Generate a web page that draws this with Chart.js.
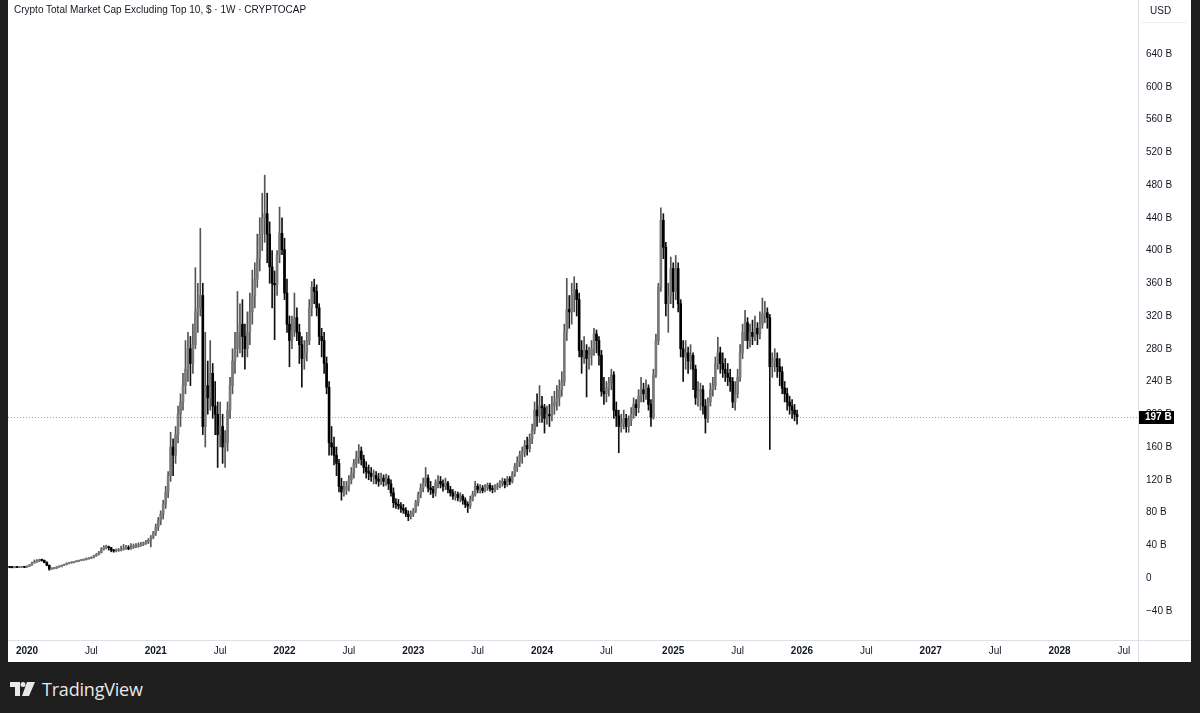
<!DOCTYPE html>
<html><head><meta charset="utf-8">
<script src="https://cdn.jsdelivr.net/npm/chart.js@4.4.0/dist/chart.umd.min.js"></script>
<style>
html,body{margin:0;padding:0;background:#1e1e1e;width:1200px;height:713px;overflow:hidden;}
#panel{position:absolute;left:8px;top:0;width:1183px;height:662px;background:#fff;}
#c{position:absolute;left:0;top:0;}
#title{position:absolute;left:6px;top:4px;font:10px 'Liberation Sans',Arial,sans-serif;color:#131722;white-space:nowrap;}
#logo{position:absolute;left:10px;top:679px;height:20px;display:flex;align-items:center;}
#logo span{font:500 18px 'Open Sans',sans-serif;color:#e8e8e8;margin-left:7px;letter-spacing:-0.2px;}
</style></head>
<body>
<div id="panel">
  <canvas id="c" width="1183" height="662"></canvas>
  <div id="title">Crypto Total Market Cap Excluding Top 10, $ · 1W · CRYPTOCAP</div>
</div>
<div id="logo">
  <svg width="25" height="14" viewBox="0 0 25 14"><path d="M0 0H10V14H5V5H0Z" fill="#e8e8e8"/><circle cx="13" cy="2.5" r="2.5" fill="#e8e8e8"/><path d="M17 0H25L19 14H12Z" fill="#e8e8e8"/></svg>
  <span>TradingView</span>
</div>
<script>
// Weekly candles (billions USD), first candle = week of 2019-11-11
const open = [
13.0,13.2,13.0,12.8,13.1,12.9,13.0,13.2,13.1,14.5, 16.0,18.5,19.5,21.0,22.0,21.5,19.0,15.5,11.0,11.5,
12.0,13.5,14.0,15.5,16.5,18.0,18.5,19.0,20.0,20.5, 21.5,22.0,22.5,23.5,24.0,25.0,27.0,28.5,31.0,35.0,
37.5,38.0,37.0,34.0,33.0,33.5,34.0,35.0,36.5,37.0, 36.0,37.5,38.5,39.0,40.0,41.0,42.5,44.0,46.0,50.0,
55,62,70,78,90,105,125,160,150,175, 200,215,235,255,280,262,285,325,330,345,
185,235,220,250,210,200,175,185,160,165, 205,235,265,280,300,310,295,280,300,325,
345,365,390,420,440,445,420,380,360,358, 395,421,
401,348,310,290,302,318,300,285,268,275, 290,330,355,350,330,295,290,262,233,165,
160,150,140,112,105,108,112,120,128,140, 148,155,145,135,130,128,124,125,121,118,
122,118,121,115,104,92,90,88,85,83, 78,75,
78,82,92,102,110,116,122,110,108,104, 116,118,115,112,116,108,104,100,102,98,
100,95,90,88,96,102,112,108,110,107, 111,113,109,108,111,113,116,118,114,121,
118,127,136,142,150,154,162,158,170,180, 205,198,
210,208,195,200,198,210,215,220,230,240, 300,328,325,345,352,340,278,270,278,268,
272,280,298,290,272,228,225,232,238,248, 205,198,185,188,195,185,192,200,212,208,
222,230,225,232,212,196,248,290,355,437, 404,335,
345,378,350,378,335,280,270,275,265,272, 255,220,228,230,210,195,215,230,235,262,
275,262,255,250,245,240,215,225,245,275, 300,312,290,300,295,305,298,310,322,324,
318,258,265,268,258,252,232,225,215,210, 205,200
];
const high = [
13.8,13.9,13.5,13.6,13.5,13.6,13.7,13.6,15.0,16.5, 19.5,22.0,22.5,23.0,23.0,22.0,19.8,16.0,12.5,13.0,
14.0,14.8,16.0,17.0,18.5,19.2,19.8,20.5,21.2,22.0, 22.8,23.2,24.5,25.0,26.0,28.0,30.0,32.5,37.0,39.5,
40.0,39.0,37.5,35.0,35.5,36.0,39.0,41.0,40.0,39.5, 42.0,41.5,42.0,43.0,43.5,44.0,46.0,48.0,52.0,57.0,
66,74,82,95,112,130,178,170,185,210, 225,250,290,300,295,310,379,360,427,360,
300,265,290,262,240,215,215,200,180,215, 245,280,300,350,335,340,310,325,348,376,
385,420,440,470,492,470,435,400,375,400, 453,440,
415,365,320,320,348,330,310,295,290,300, 340,362,365,358,335,305,300,270,240,185,
172,160,145,122,118,118,125,135,145,155, 163,160,150,142,138,135,132,130,128,128,
126,127,125,120,110,97,96,92,90,86, 82,82,
85,95,105,115,122,135,126,118,112,120, 125,124,120,122,118,112,108,106,105,104,
102,98,93,100,106,118,115,114,113,114, 116,116,113,114,116,119,122,121,124,124,
130,140,148,155,160,168,172,176,188,215, 225,235,
222,212,210,212,222,228,235,242,252,310, 366,345,360,368,360,348,290,295,285,282,
290,305,303,295,278,245,240,245,255,252, 215,205,200,205,200,198,208,220,218,230,
245,238,242,236,218,255,298,360,452,445, 410,360,
392,385,394,385,340,290,290,282,285,275, 260,240,238,235,218,220,238,245,270,294,
282,275,268,262,255,245,240,255,285,310, 327,318,310,315,320,312,325,342,338,330,
322,275,280,275,268,258,240,232,222,218, 212,205
];
const low = [
12.6,12.5,12.3,12.4,12.5,12.6,12.7,12.6,12.9,14.0, 15.5,18.0,19.0,20.0,20.5,18.5,15.0,9.5,10.5,11.0,
11.5,13.0,13.5,15.0,16.0,17.3,18.0,18.5,19.5,20.0, 21.0,21.5,22.0,23.0,23.5,24.5,26.5,28.0,30.5,34.0,
35.5,34.0,32.0,31.5,32.0,32.5,33.0,34.0,35.0,34.5, 35.0,36.0,37.0,37.5,38.5,39.5,41.0,42.0,38.0,48.0,
52,58,65,72,85,98,118,125,140,165, 185,205,225,240,235,250,280,300,320,175,
160,200,205,195,175,135,160,140,135,155, 195,225,250,270,275,270,255,270,285,310,
330,355,375,400,410,385,360,330,291,345, 385,395,
340,300,258,280,295,290,262,233,255,265, 285,320,335,320,285,270,250,225,150,150,
138,125,105,95,100,102,106,115,122,135, 140,138,128,122,120,118,115,115,112,114,
112,113,108,100,86,85,84,80,79,75, 70,72,
75,80,88,98,105,112,105,102,98,100, 110,110,106,108,104,100,96,95,94,93,
90,86,80,85,94,100,104,104,104,105, 107,106,104,105,108,110,112,110,112,114,
116,124,130,136,140,148,150,154,164,176, 185,190,
190,177,188,185,192,200,205,210,222,235, 290,305,310,325,320,270,250,262,221,255,
260,272,275,260,222,212,215,222,230,195, 185,153,178,182,178,178,186,195,198,202,
215,215,218,205,185,194,245,285,350,390, 320,300,
335,330,340,325,270,240,255,250,255,230, 212,210,205,200,177,190,210,222,230,255,
250,245,240,235,228,208,205,220,240,268, 290,280,282,285,290,285,292,305,312,305,
157,245,252,245,235,225,215,205,200,195, 192,188
];
const close = [
13.2,13.0,12.8,13.1,12.9,13.0,13.2,13.1,14.5,16.0, 18.5,19.5,21.0,22.0,21.5,19.0,15.5,11.0,11.5,12.0,
13.5,14.0,15.5,16.5,18.0,18.5,19.0,20.0,20.5,21.5, 22.0,22.5,23.5,24.0,25.0,27.0,28.5,31.0,35.0,37.5,
38.0,37.0,34.0,33.0,33.5,34.0,35.0,36.5,37.0,36.0, 37.5,38.5,39.0,40.0,41.0,42.5,44.0,46.0,50.0,55.0,
62,70,78,90,105,125,160,150,175,200, 215,235,255,280,262,285,325,330,345,185,
235,220,250,210,200,175,185,160,165,205, 235,265,280,300,310,295,280,300,325,345,
365,390,420,440,445,420,380,360,358,395, 421,401,
348,310,290,302,318,300,285,268,275,290, 330,355,350,330,295,290,262,233,165,160,
150,140,112,105,108,112,120,128,140,148, 155,145,135,130,128,124,125,121,118,122,
118,121,115,104,92,90,88,85,83,78, 75,78,
82,92,102,110,116,122,110,108,104,116, 118,115,112,116,108,104,100,102,98,100,
95,90,88,96,102,112,108,110,107,111, 113,109,108,111,113,116,118,114,121,118,
127,136,142,150,154,162,158,170,180,205, 198,210,
208,195,200,198,210,215,220,230,240,300, 328,325,345,352,340,278,270,278,268,272,
280,298,290,272,228,225,232,238,248,205, 198,185,188,195,185,192,200,212,208,222,
230,225,232,212,196,248,290,355,437,404, 335,345,
378,350,378,335,280,270,275,265,272,255, 220,228,230,210,195,215,230,235,262,275,
262,255,250,245,240,215,225,245,275,300, 312,290,300,295,305,298,310,322,324,318,
258,265,268,258,252,232,225,215,210,205, 200,197
];
// time axis ticks: week index of first bar of each period
const tickIdx  = [8, 34, 60, 86, 112, 138, 164, 190, 216, 242, 269, 295, 321, 347, 373, 399, 425, 451];
const tickText = ['2020','Jul','2021','Jul','2022','Jul','2023','Jul','2024','Jul','2025','Jul','2026','Jul','2027','Jul','2028','Jul'];
// price axis ticks (billions)
const priceTicks = [-40, 0, 40, 80, 120, 160, 200, 240, 280, 320, 360, 400, 440, 480, 520, 560, 600, 640];
const lastPrice = close[close.length - 1];

// visible window (canvas pixels): value 0 at y=578, 0.81875 px per billion; bar i at x = -0.8 + 2.476*i
const Y_ZERO_PX = 578, Y_PX_PER_B = 0.81875, X0_PX = -0.8, X_PX_PER_BAR = 2.476;

const FONT = "'Liberation Sans', Arial, sans-serif";
const UP_BODY = '#7a7a7a', DOWN_BODY = '#000000';
const UP_WICK = '#555555', DOWN_WICK = '#111111';

const wickData = high.map((h, i) => ({x: i, y: [low[i], h]}));
const bodyData = open.map((o, i) => ({x: i, y: [Math.min(o, close[i]), Math.max(o, close[i])]}));
const isUp = open.map((o, i) => close[i] >= o);

const fmt = v => v === 0 ? '0' : (v < 0 ? '\u2212' + (-v) : String(v)) + ' B';

const tvPlugin = {
  id: 'tv',
  beforeDatasetsDraw(chart) {
    const {ctx, chartArea: a, scales: {y}} = chart;
    const py = Math.round(y.getPixelForValue(lastPrice)) + 0.5;
    ctx.save();
    ctx.strokeStyle = '#a3a6af'; ctx.lineWidth = 1; ctx.setLineDash([1, 2]);
    ctx.beginPath(); ctx.moveTo(0, py); ctx.lineTo(a.right, py); ctx.stroke();
    ctx.restore();
  },
  afterDraw(chart) {
    const {ctx, chartArea: a, scales: {y}} = chart;
    ctx.save();
    ctx.strokeStyle = '#dcdfe6'; ctx.lineWidth = 1;
    ctx.beginPath(); ctx.moveTo(a.right + 0.5, 0); ctx.lineTo(a.right + 0.5, chart.height); ctx.stroke();
    ctx.beginPath(); ctx.moveTo(0, a.bottom + 0.5); ctx.lineTo(chart.width, a.bottom + 0.5); ctx.stroke();
    ctx.strokeStyle = '#eef0f4';
    ctx.beginPath(); ctx.moveTo(a.right + 3, 22.5); ctx.lineTo(chart.width - 4, 22.5); ctx.stroke();
    ctx.fillStyle = '#131722'; ctx.font = '10px ' + FONT; ctx.textBaseline = 'middle'; ctx.textAlign = 'left';
    ctx.fillText('USD', a.right + 12, 11);
    const py = Math.round(y.getPixelForValue(lastPrice));
    ctx.fillStyle = '#000'; ctx.fillRect(a.right + 1, py - 6, 35, 13);
    ctx.fillStyle = '#fff'; ctx.font = 'bold 10px ' + FONT;
    ctx.fillText(fmt(lastPrice), a.right + 7, py + 0.5);
    ctx.restore();
  }
};

const chart = new Chart(document.getElementById('c'), {
  type: 'bar',
  data: {
    datasets: [
      {data: bodyData, grouped: false, order: 1, barThickness: 2, minBarLength: 1,
       backgroundColor: isUp.map(u => u ? UP_BODY : DOWN_BODY), borderWidth: 0},
      {data: wickData, grouped: false, order: 2, barThickness: 1,
       backgroundColor: isUp.map(u => u ? UP_WICK : DOWN_WICK), borderWidth: 0}
    ]
  },
  options: {
    responsive: false, animation: false, devicePixelRatio: 1,
    layout: {padding: 0},
    events: [],
    plugins: {legend: {display: false}, tooltip: {enabled: false}},
    scales: {
      x: {
        type: 'linear', position: 'bottom', min: 0.3, max: 456.7, offset: false,
        grid: {display: false, drawTicks: false}, border: {display: false},
        afterFit(s) { s.height = 22; },
        afterBuildTicks(s) { s.ticks = tickIdx.map(v => ({value: v})); },
        ticks: {
          autoSkip: false, maxRotation: 0, padding: 5, color: '#131722',
          callback: (v, i) => tickText[i],
          font: ctx => ({family: FONT, size: 10, weight: /^\d{4}$/.test(tickText[ctx.index]) ? 'bold' : 'normal'})
        }
      },
      y: {
        type: 'linear', position: 'right', min: -75.7, max: 705.9,
        grid: {display: false, drawTicks: false}, border: {display: false},
        afterFit(s) { s.width = 53; },
        afterBuildTicks(s) { s.ticks = priceTicks.map(v => ({value: v})); },
        ticks: {padding: 8, color: '#131722', font: {family: FONT, size: 10}, callback: v => fmt(v)}
      }
    }
  },
  plugins: [tvPlugin]
});
// fit the value window to the laid-out chart area so the scale matches the reference
const ca = chart.chartArea;
chart.options.scales.y.max = (Y_ZERO_PX - ca.top) / Y_PX_PER_B;
chart.options.scales.y.min = (Y_ZERO_PX - ca.bottom) / Y_PX_PER_B;
chart.options.scales.x.min = (ca.left - X0_PX) / X_PX_PER_BAR;
chart.options.scales.x.max = (ca.right - X0_PX) / X_PX_PER_BAR;
chart.update();
</script>
</body></html>
